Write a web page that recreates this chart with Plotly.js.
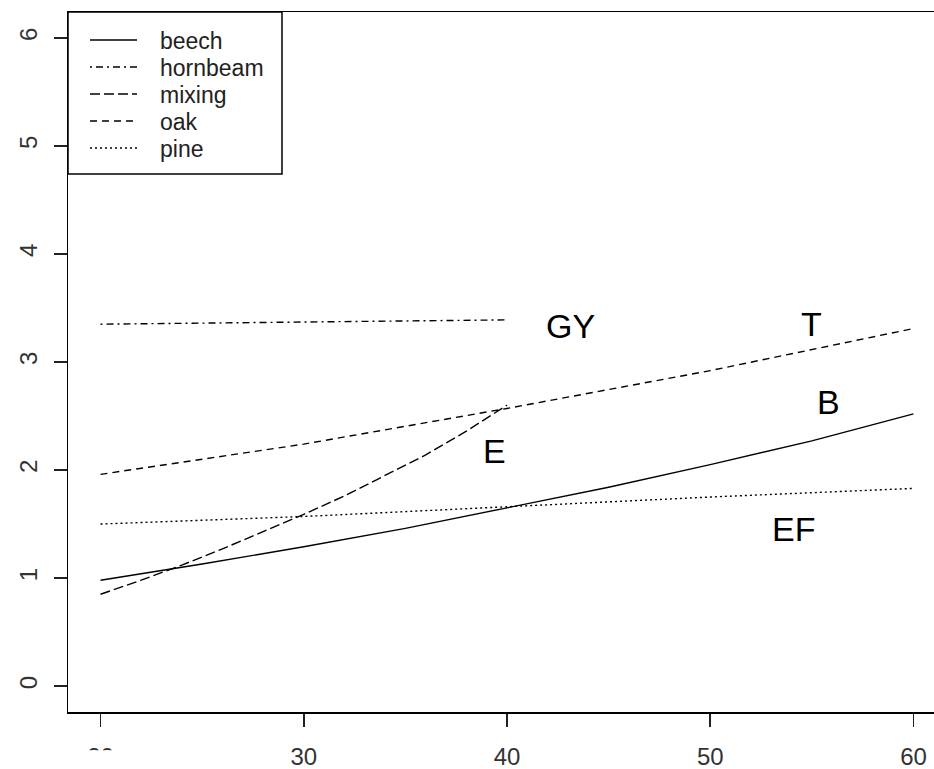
<!DOCTYPE html>
<html>
<head>
<meta charset="utf-8">
<script src="https://cdn.plot.ly/plotly-3.0.1.min.js"></script>
<style>
html,body{margin:0;padding:0;overflow:hidden;background:#fff;width:934px;height:769px;}
#chart{width:946px;height:769px;}
</style>
</head>
<body>
<div id="chart"></div>
<script>
// Data
const seriesNames = ["beech", "hornbeam", "mixing", "oak", "pine"];
const beechX = [20, 25, 30, 35, 40, 45, 50, 55, 60];
const beechY = [0.98, 1.13, 1.29, 1.46, 1.65, 1.84, 2.05, 2.27, 2.52];
const hornbeamX = [20, 25, 30, 35, 40];
const hornbeamY = [3.35, 3.36, 3.37, 3.38, 3.39];
const mixingX = [20, 22, 24, 26, 28, 30, 32, 34, 36, 38, 40];
const mixingY = [0.85, 0.98, 1.12, 1.27, 1.43, 1.59, 1.76, 1.95, 2.14, 2.36, 2.60];
const oakX = [20, 30, 40, 50, 60];
const oakY = [1.96, 2.24, 2.57, 2.92, 3.31];
const pineX = [20, 30, 40, 50, 60];
const pineY = [1.50, 1.57, 1.66, 1.75, 1.83];

const labelText = ["GY", "T", "B", "E", "EF"];
const labelX = [43.1, 55.0, 55.8, 39.4, 54.1];
const labelY = [3.33, 3.35, 2.63, 2.18, 1.45];

const xTicks = [20, 30, 40, 50, 60];
const yTicks = [0, 1, 2, 3, 4, 5, 6];

const FONT = "Liberation Sans, Arial, sans-serif";
const dashes = ["solid", "2px,4px,7px,4px", "10px,4px", "7px,5px", "2px,3px"];
const seriesX = [beechX, hornbeamX, mixingX, oakX, pineX];
const seriesY = [beechY, hornbeamY, mixingY, oakY, pineY];

const data = seriesNames.map((n, i) => ({
  type: "scatter", mode: "lines", name: n, x: seriesX[i], y: seriesY[i],
  line: {color: "#000", width: 1.4, dash: dashes[i]}
}));

const annotations = labelText.map((t, i) => ({
  x: labelX[i], y: labelY[i], xref: "x", yref: "y", text: t, showarrow: false,
  font: {family: FONT, size: 34, color: "#000"}, xanchor: "center", yanchor: "middle"
}));

// Legend box in the style of R's legend() (plot area: 878 x 700 px)
const PW = 878, PH = 700;
const px = v => v / PW, py = v => 1 - v / PH;
const shapes = [{type: "rect", xref: "paper", yref: "paper",
  x0: 0, x1: px(214), y0: py(162), y1: 1,
  fillcolor: "#fff", line: {color: "#000", width: 1.5}, layer: "above"}];
seriesNames.forEach((n, i) => {
  const yy = py(28 + 27 * i);
  shapes.push({type: "line", xref: "paper", yref: "paper",
    x0: px(22), x1: px(69), y0: yy, y1: yy,
    line: {color: "#000", width: 1.4, dash: dashes[i]}, layer: "above"});
  annotations.push({xref: "paper", yref: "paper", x: px(90), y: py(29 + 27 * i),
    text: n, showarrow: false, xanchor: "left", yanchor: "middle",
    font: {family: FONT, size: 23, color: "#222"}});
});
// hide the clipped lower part of the first x tick label, as in the reference
shapes.push({type: "rect", xref: "x", yref: "paper", x0: 18.6, x1: 21.6, y0: -0.0545, y1: -0.09,
  fillcolor: "#fff", line: {width: 0}, layer: "above"});

const layout = {
  width: 946, height: 769,
  margin: {l: 68, r: 0, t: 12, b: 57},
  paper_bgcolor: "#fff", plot_bgcolor: "#fff",
  showlegend: false,
  xaxis: {range: [18.4, 61.6], tickvals: xTicks, ticktext: xTicks.map(String),
          showgrid: false, zeroline: false, showline: true, mirror: true,
          linecolor: "#000", linewidth: 1.5, ticks: "outside", ticklen: 13,
          tickwidth: 1.5, tickcolor: "#222", ticklabelstandoff: 10,
          tickfont: {family: FONT, size: 24, color: "#333"}},
  yaxis: {range: [-0.24, 6.24], tickvals: yTicks, ticktext: yTicks.map(String),
          showgrid: false, zeroline: false, showline: true, mirror: true,
          linecolor: "#000", linewidth: 1.5, ticks: "outside", ticklen: 13,
          tickwidth: 1.5, tickcolor: "#222", tickangle: -90, ticklabelstandoff: 7,
          tickfont: {family: FONT, size: 24, color: "#333"}},
  annotations: annotations,
  shapes: shapes
};
Plotly.newPlot("chart", data, layout, {displayModeBar: false, staticPlot: true});
</script>
</body>
</html>
